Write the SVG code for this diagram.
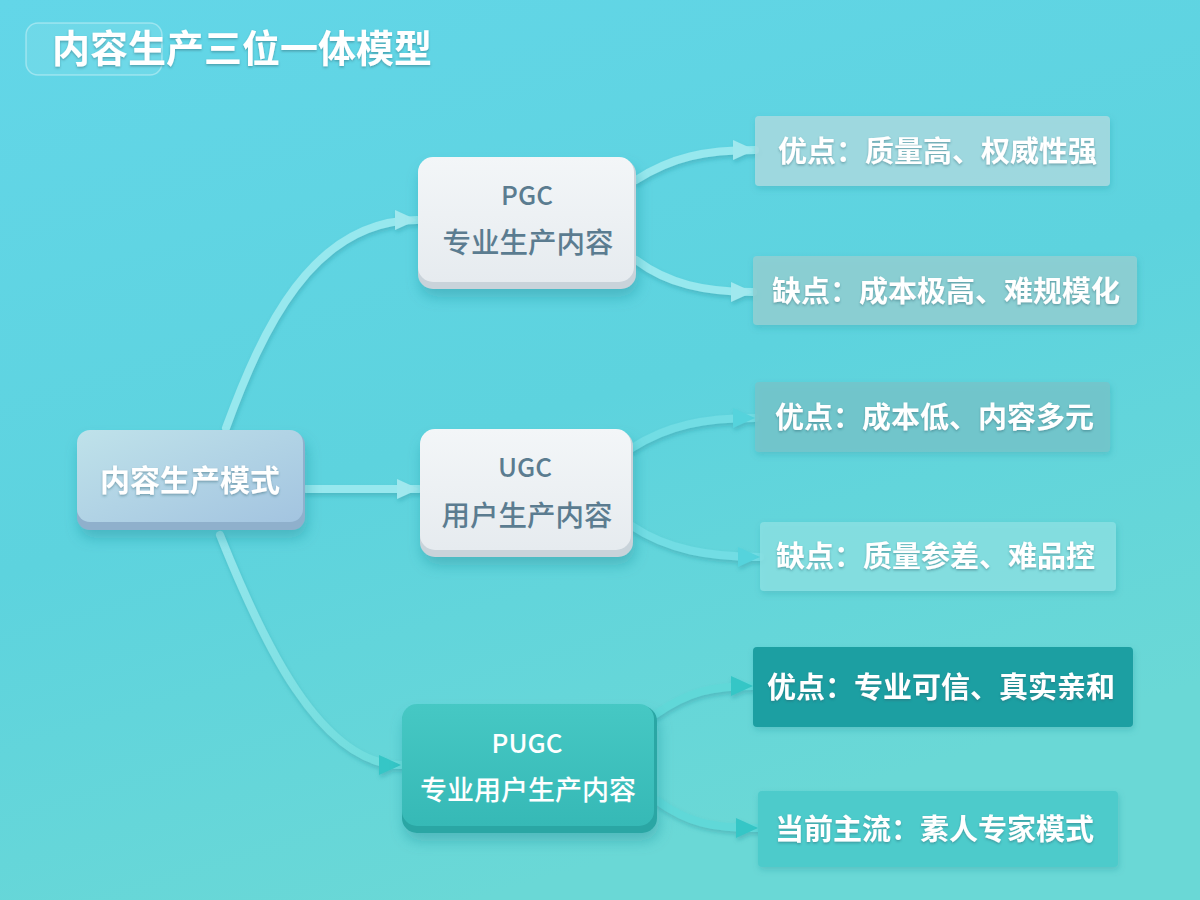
<svg xmlns="http://www.w3.org/2000/svg" width="1200" height="900" viewBox="0 0 1200 900">
<defs>
<linearGradient id="bg" x1="0" y1="0" x2="0.4" y2="1">
<stop offset="0" stop-color="#63d6e8"/>
<stop offset="0.55" stop-color="#5dd3de"/>
<stop offset="1" stop-color="#6ad8d6"/>
</linearGradient>
<linearGradient id="rootG" x1="0" y1="0" x2="1" y2="1">
<stop offset="0" stop-color="#bfe2ea"/>
<stop offset="1" stop-color="#a3c4e0"/>
</linearGradient>
<linearGradient id="whiteG" x1="0" y1="0" x2="0" y2="1">
<stop offset="0" stop-color="#f3f6f8"/>
<stop offset="1" stop-color="#e6ebef"/>
</linearGradient>
<linearGradient id="tealG" x1="0" y1="0" x2="0" y2="1">
<stop offset="0" stop-color="#46c8c4"/>
<stop offset="1" stop-color="#36b9b6"/>
</linearGradient>
<linearGradient id="pugcLine" gradientUnits="userSpaceOnUse" x1="220" y1="535" x2="401" y2="765">
<stop offset="0" stop-color="#95e6ec"/>
<stop offset="1" stop-color="#6ddcdc"/>
</linearGradient>
<filter id="sh" x="-20%" y="-20%" width="140%" height="160%">
<feDropShadow dx="2" dy="8" stdDeviation="7" flood-color="#1a7f8c" flood-opacity="0.35"/>
</filter>
<filter id="shs" x="-10%" y="-20%" width="120%" height="150%">
<feDropShadow dx="1" dy="3" stdDeviation="3" flood-color="#1a7f8c" flood-opacity="0.25"/>
</filter>
<filter id="csh" x="-10%" y="-10%" width="120%" height="120%">
<feDropShadow dx="1" dy="3" stdDeviation="2" flood-color="#1a7f8c" flood-opacity="0.3"/>
</filter>
<filter id="ts" x="-10%" y="-20%" width="120%" height="150%">
<feDropShadow dx="0" dy="1.5" stdDeviation="1" flood-color="#2a6070" flood-opacity="0.45"/>
</filter>
<marker id="arL" viewBox="0 0 22 20" refX="22" refY="10" markerWidth="22" markerHeight="20" markerUnits="userSpaceOnUse" orient="auto">
<path d="M0,0 L22,10 L0,20 Z" fill="#a0e8ee"/>
</marker>
<marker id="arM" viewBox="0 0 22 20" refX="22" refY="10" markerWidth="22" markerHeight="20" markerUnits="userSpaceOnUse" orient="auto">
<path d="M0,0 L22,10 L0,20 Z" fill="#55d3dc"/>
</marker>
<marker id="arT" viewBox="0 0 22 20" refX="22" refY="10" markerWidth="22" markerHeight="20" markerUnits="userSpaceOnUse" orient="auto">
<path d="M0,0 L22,10 L0,20 Z" fill="#36c6c6"/>
</marker>
</defs>
<style>
.conn{fill:none;stroke:#97e8ee;stroke-width:8;stroke-linecap:round}
.connM{fill:none;stroke:#72dde4;stroke-width:8;stroke-linecap:round}
.connT{fill:none;stroke:#60d8d8;stroke-width:8;stroke-linecap:round}
.cjk{font-family:"Noto Sans CJK SC","Noto Sans",sans-serif}
.leaf{font-size:29px;font-weight:600;fill:#ffffff}
.wt{font-weight:500;fill:#5b7c90;text-anchor:middle}
</style>
<rect width="1200" height="900" fill="url(#bg)"/>

<g id="title">
<rect x="26" y="23" width="136" height="52" rx="12" fill="#ffffff" fill-opacity="0.08" stroke="#ffffff" stroke-opacity="0.35" stroke-width="1.5"/>
<text x="52" y="62" class="cjk" font-size="38" font-weight="700" fill="#ffffff" filter="url(#ts)">内容生产三位一体模型</text>
</g>

<g id="connectors" filter="url(#csh)">
<path class="conn" d="M226,428 C262,330 312,220 417,220" marker-end="url(#arL)"/>
<path class="conn" d="M306,489 L419,489" marker-end="url(#arL)"/>
<path fill="none" stroke="url(#pugcLine)" stroke-width="8" stroke-linecap="round" d="M220,535 C262,640 320,765 401,765" marker-end="url(#arT)"/>
<path class="conn" d="M636,180 C672,157 705,150 755,150" marker-end="url(#arL)"/>
<path class="conn" d="M636,260 C668,284 705,292 753,292" marker-end="url(#arL)"/>
<path class="connM" d="M632,448 C668,425 705,418 755,418" marker-end="url(#arM)"/>
<path class="connM" d="M632,526 C668,550 710,557 760,557" marker-end="url(#arM)"/>
<path class="connT" d="M656,714 C688,692 712,686 753,686" marker-end="url(#arT)"/>
<path class="connT" d="M656,800 C688,823 712,828 758,828" marker-end="url(#arT)"/>
</g>

<g id="root">
<rect x="77" y="432" width="228" height="98" rx="13" fill="#8fb0cc" filter="url(#sh)"/>
<rect x="77" y="430" width="226" height="92" rx="13" fill="url(#rootG)"/>
<text x="190" y="491" class="cjk" font-size="30" font-weight="600" fill="#ffffff" text-anchor="middle" filter="url(#ts)">内容生产模式</text>
</g>

<g id="pgc">
<rect x="418" y="159" width="218" height="130" rx="15" fill="#c9d3da" filter="url(#sh)"/>
<rect x="418" y="157" width="216" height="125" rx="15" fill="url(#whiteG)"/>
<text x="527" y="205" class="cjk wt" font-size="26">PGC</text>
<text x="528" y="253" class="cjk wt" font-size="28.5">专业生产内容</text>
</g>

<g id="ugc">
<rect x="420" y="431" width="213" height="126" rx="15" fill="#c9d3da" filter="url(#sh)"/>
<rect x="420" y="429" width="211" height="121" rx="15" fill="url(#whiteG)"/>
<text x="525" y="477" class="cjk wt" font-size="26">UGC</text>
<text x="527" y="526" class="cjk wt" font-size="28.5">用户生产内容</text>
</g>

<g id="pugc">
<rect x="402" y="706" width="255" height="127" rx="15" fill="#2aa6a4" filter="url(#sh)"/>
<rect x="402" y="704" width="252" height="122" rx="15" fill="url(#tealG)"/>
<text x="527" y="753" class="cjk" font-size="26" font-weight="500" fill="#ffffff" text-anchor="middle">PUGC</text>
<text x="528" y="800" class="cjk" font-size="27" font-weight="500" fill="#ffffff" text-anchor="middle">专业用户生产内容</text>
</g>

<g id="pgc-pro">
<rect x="755" y="116" width="355" height="70" rx="4" fill="#a9dbe1" fill-opacity="0.85" filter="url(#shs)"/>
<text x="778" y="162" class="cjk leaf" filter="url(#ts)">优点：质量高、权威性强</text>
</g>
<g id="pgc-con">
<rect x="753" y="256" width="384" height="69" rx="4" fill="#8fcfd3" fill-opacity="0.9" filter="url(#shs)"/>
<text x="772" y="302" class="cjk leaf" filter="url(#ts)">缺点：成本极高、难规模化</text>
</g>
<g id="ugc-pro">
<rect x="755" y="382" width="355" height="70" rx="4" fill="#73c5cb" fill-opacity="0.9" filter="url(#shs)"/>
<text x="775" y="428" class="cjk leaf" filter="url(#ts)">优点：成本低、内容多元</text>
</g>
<g id="ugc-con">
<rect x="760" y="522" width="356" height="69" rx="4" fill="#8ae0e3" fill-opacity="0.85" filter="url(#shs)"/>
<text x="776" y="567" class="cjk leaf" filter="url(#ts)">缺点：质量参差、难品控</text>
</g>
<g id="pugc-pro">
<rect x="753" y="647" width="380" height="80" rx="4" fill="#1c9fa2" filter="url(#shs)"/>
<text x="767" y="698" class="cjk leaf" filter="url(#ts)">优点：专业可信、真实亲和</text>
</g>
<g id="pugc-now">
<rect x="758" y="791" width="360" height="76" rx="4" fill="#4dcbcb" filter="url(#shs)"/>
<text x="775" y="840" class="cjk leaf" filter="url(#ts)">当前主流：素人专家模式</text>
</g>
</svg>
